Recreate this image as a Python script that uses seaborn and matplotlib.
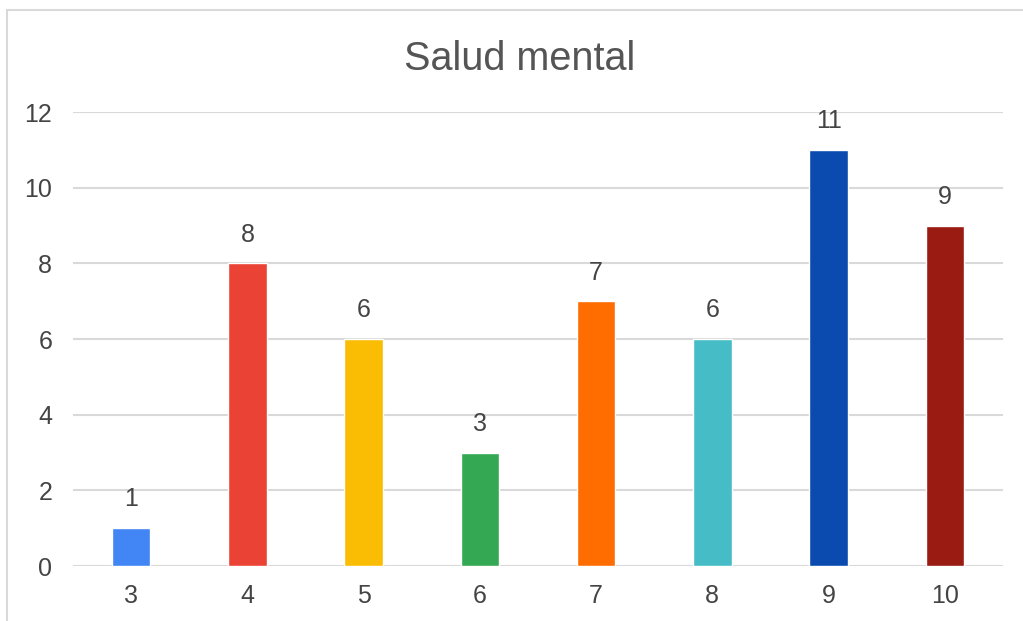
import matplotlib
matplotlib.use("Agg")
import matplotlib.pyplot as plt
import matplotlib.patches as patches
import seaborn as sns
import pandas as pd

# data
categories = ["3", "4", "5", "6", "7", "8", "9", "10"]
values = [1, 8, 6, 3, 7, 6, 11, 9]
colors = ["#4285F4", "#EA4335", "#FBBC04", "#34A853", "#FF6D01", "#46BDC6", "#0B4BB0", "#991B12"]
title = "Salud mental"

sns.set_style("white")
plt.rcParams['font.family'] = ['Liberation Sans', 'DejaVu Sans']

df = pd.DataFrame({'cat': categories, 'val': values})

fig = plt.figure(figsize=(10.23, 6.21), dpi=100)
ax = fig.add_axes([73 / 1023, 1 - 566 / 621, 930 / 1023, 454 / 621])

sns.barplot(data=df, x='cat', y='val', hue='cat', palette=colors, order=categories,
            hue_order=categories, width=0.33, legend=False, saturation=1, ax=ax)

for c in ax.containers:
    ax.bar_label(c, padding=12, fontsize=18, color='#444444')

ax.set_xlim(-0.5, 7.5)
ax.set_ylim(0, 12)
ax.set_yticks(range(0, 13, 2))
ax.set_xlabel("")
ax.set_ylabel("")
ax.grid(axis='y', color='#d9d9d9', linewidth=1.5)
ax.set_axisbelow(True)
for s in ax.spines.values():
    s.set_visible(False)
ax.tick_params(axis='both', length=0, labelsize=18, labelcolor='#444444')
ax.tick_params(axis='y', pad=15)
ax.tick_params(axis='x', pad=13)

fig.text(520 / 1023, 1 - 70 / 621, title, ha='center', va='baseline', fontsize=28.5, color='#555555')

# outer chart border (cropped on right and bottom)
border = patches.Rectangle((7 / 1023, -0.2), 2, 1.2 - 10 / 621, transform=fig.transFigure,
                           fill=False, edgecolor='#d9d9d9', linewidth=1.5, clip_on=False)
fig.patches.append(border)

fig.savefig("out.png", dpi=100)
